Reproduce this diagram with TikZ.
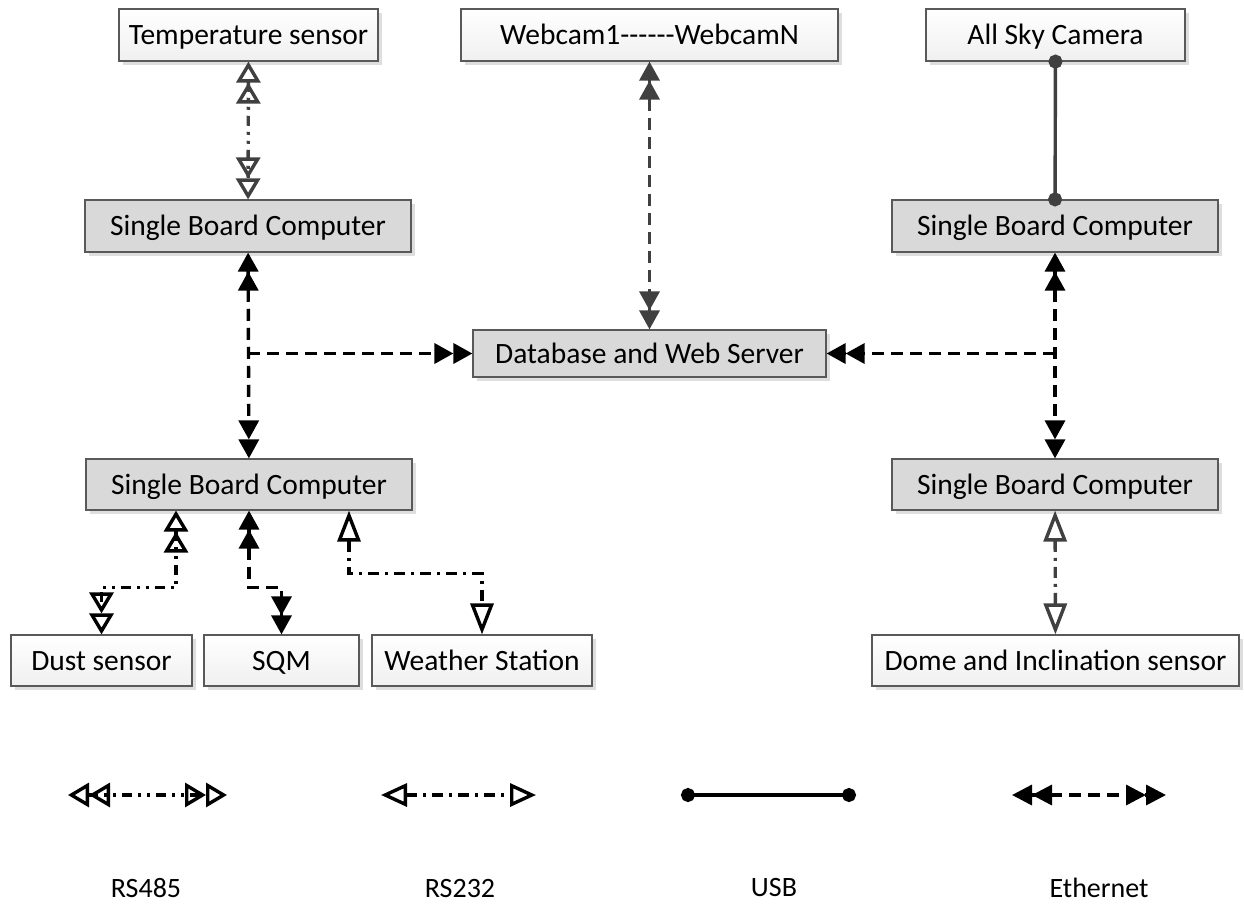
\documentclass[tikz,border=0pt]{standalone}
\usepackage{fontspec}
\setmainfont{Carlito}[Ligatures=TeXOff]
\usetikzlibrary{positioning,arrows.meta,shadows}
\definecolor{edge}{HTML}{595959}
\definecolor{wire}{HTML}{404040}
\definecolor{board}{HTML}{D9D9D9}
\definecolor{shade}{HTML}{DEDEDE}

\begin{document}
\begin{tikzpicture}[x=1pt,y=-1pt,
  box/.style={draw=edge,line width=1.2pt,minimum height=52pt,inner sep=0pt,text height=19pt,text depth=0pt,font=\fontsize{29.5}{34}\selectfont,drop shadow={shadow xshift=4pt,shadow yshift=-4pt,fill=shade,opacity=1}},
  dev/.style={box,top color=white,bottom color=black!6},
  sbc/.style={box,fill=board},
  key/.style={font=\fontsize{28}{32}\selectfont,inner sep=0pt},
  link/.style={line width=3.4pt},
  rs485/.style={link,dash pattern=on 10pt off 6pt on 3pt off 6pt on 3pt off 6pt,{Triangle[open,length=21pt,width=24pt,line width=3.4pt]Triangle[open,length=21pt,width=24pt,line width=3.4pt]}-{Triangle[open,length=21pt,width=24pt,line width=3.4pt]Triangle[open,length=21pt,width=24pt,line width=3.4pt]}},
  rs232/.style={link,dash pattern=on 11pt off 6pt on 3pt off 6pt,{Triangle[open,length=31pt,width=23pt,line width=3.4pt]}-{Triangle[open,length=31pt,width=23pt,line width=3.4pt]}},
  eth/.style={link,dash pattern=on 12pt off 7pt,>={Triangle[length=19pt,width=20pt]},<<->>},
  usb/.style={link,{Circle[length=14pt]}-{Circle[length=14pt]},shorten <=-7pt,shorten >=-7pt}]
\useasboundingbox (0,0) rectangle (1244,905);
% sensors and cameras
\node[dev,minimum width=259pt] (temp) at (248.5,35) {Temperature sensor};
\node[dev,minimum width=377pt] (cams) at (649.5,35) {Webcam1------WebcamN};
\node[dev,minimum width=259pt] (sky) at (1055.5,35) {All Sky Camera};
% computers
\node[sbc,minimum width=326pt] (sbcA) at (248,226) {Single Board Computer};
\node[sbc,minimum width=326pt] (sbcB) at (1055,226) {Single Board Computer};
\node[sbc,minimum width=353pt,minimum height=47pt] (db) at (649.5,353.5) {Database and Web Server};
\node[sbc,minimum width=326pt,minimum height=51pt] (sbcC) at (249,484.5) {Single Board Computer};
\node[sbc,minimum width=326pt,minimum height=51pt] (sbcD) at (1055,484.5) {Single Board Computer};
\node[dev,minimum width=181pt,minimum height=51pt] (dust) at (101.5,660.5) {Dust sensor};
\node[dev,minimum width=155pt,minimum height=51pt] (sqm) at (281.5,660.5) {SQM};
\node[dev,minimum width=220pt,minimum height=51pt] (wx) at (482,660.5) {Weather Station};
\node[dev,minimum width=367pt,minimum height=51pt] (dome) at (1055.5,660.5) {Dome and Inclination sensor};
% links
\draw[rs485,wire] (temp)--(sbcA);
\draw[eth,wire] (cams)--(db);
\draw[usb,wire] (sky)--(sbcB);
\draw[eth] (sbcA)--(sbcC);\draw[eth,->>] (sbcA |- db)--(db);
\draw[eth] (sbcB)--(sbcD);\draw[eth,->>] (sbcB |- db)--(db);
\draw[rs485] ([xshift=-73pt]sbcC.south)--++(0,77)-|(dust.north);
\draw[eth] (sbcC.south)--++(0,77)-|(sqm.north);
\draw[rs232] ([xshift=100pt]sbcC.south)--++(0,63)-|(wx.north);
\draw[rs232,wire] (sbcD)--(dome);
% legend
\coordinate (k1a) at (68,795);\coordinate (k1b) at (227,795);
\coordinate (k2a) at (381,795);\coordinate (k2b) at (536,795);
\coordinate (k3a) at (688,795);\coordinate (k3b) at (849,795);
\coordinate (k4a) at (1012,795);\coordinate (k4b) at (1166,795);
\draw[rs485] (k1a)--(k1b);
\draw[rs232,{Triangle[open,length=26pt,width=23pt,line width=3.4pt]}-{Triangle[open,length=26pt,width=23pt,line width=3.4pt]}] (k2a)--(k2b);
\draw[usb] (k3a)--(k3b);
\draw[eth,>={Triangle[length=20pt,width=20pt]}] (k4a)--(k4b);
\node[key] (n1) at (146,888) {RS485};
\node[key] (n2) at (460,888) {RS232};
\node[key] (n3) at (774,888) {USB};
\node[key] (n4) at (1099,888) {Ethernet};
\end{tikzpicture}
\end{document}
